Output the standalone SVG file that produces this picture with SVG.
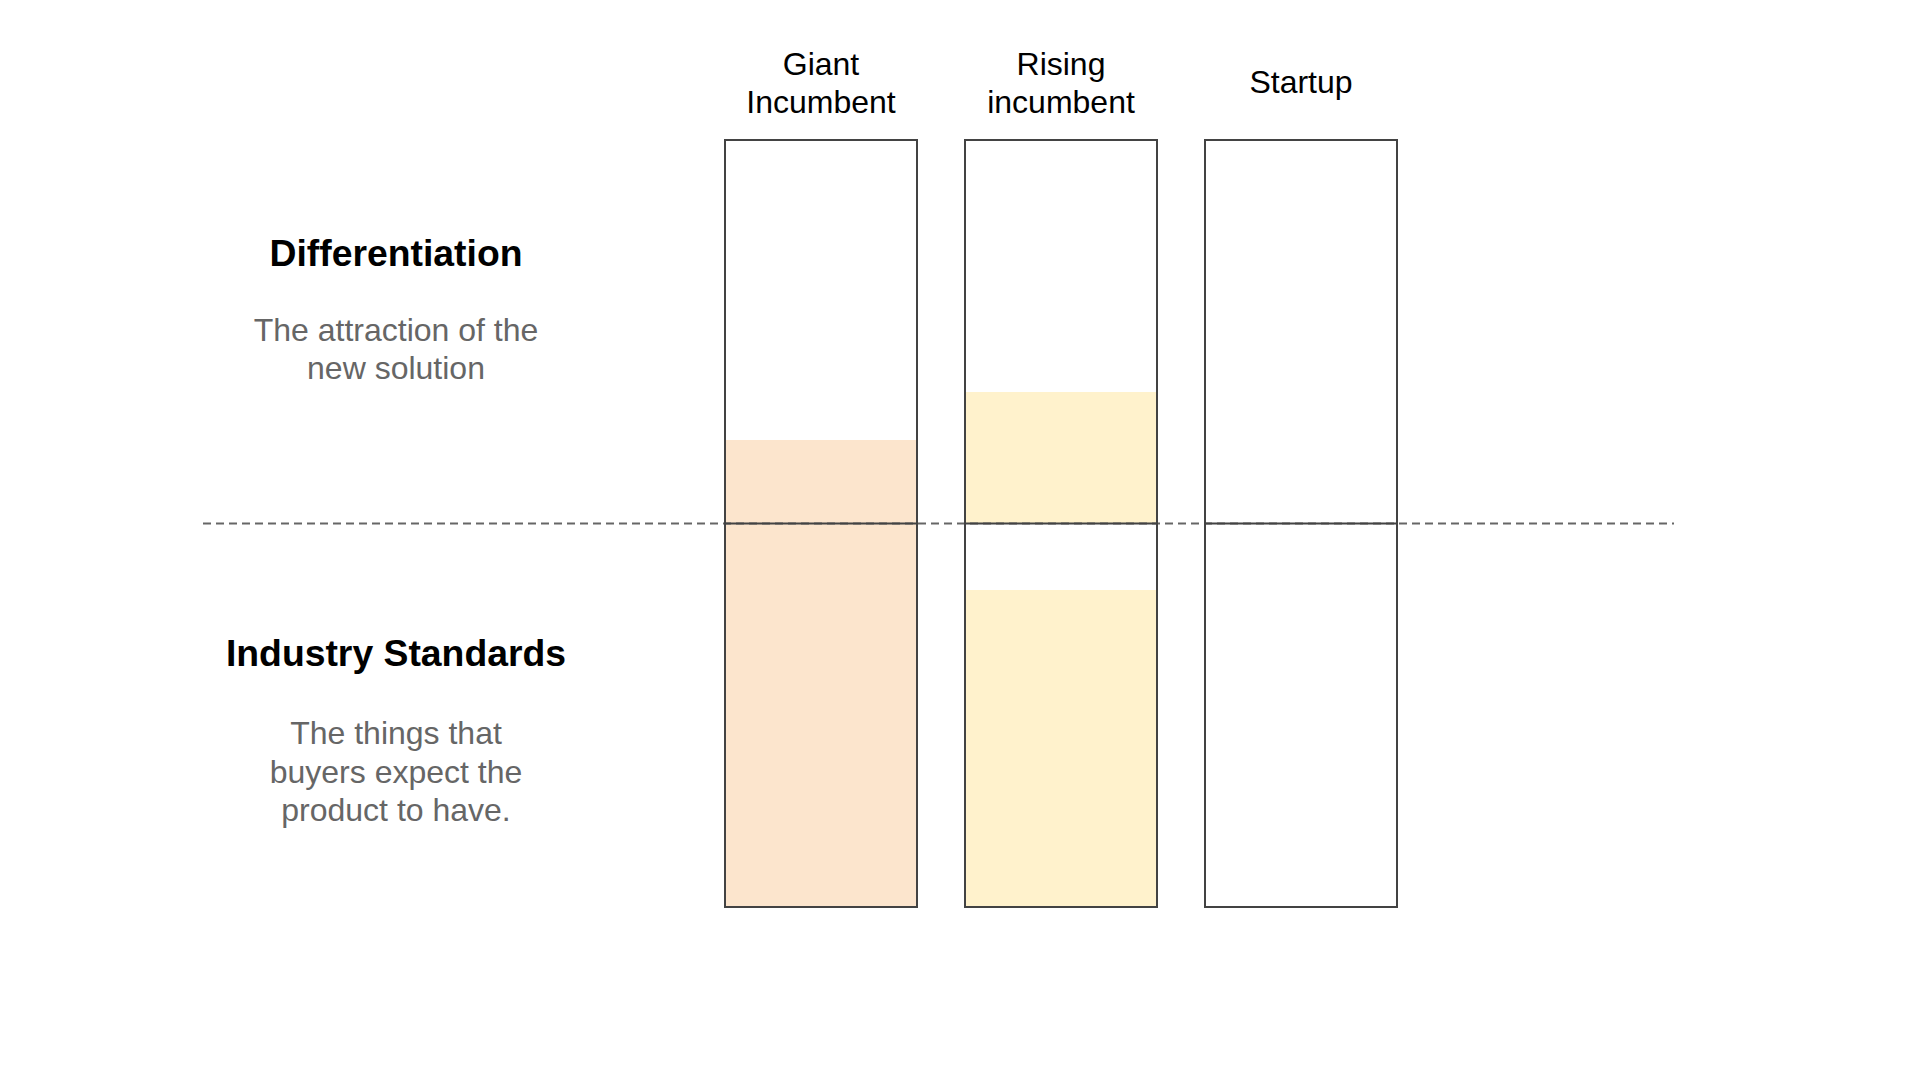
<svg xmlns="http://www.w3.org/2000/svg" width="1920" height="1080" viewBox="0 0 1920 1080">
<style>
.hdr{font-family:"Liberation Sans",Arial,sans-serif;font-size:32px;fill:#000;text-anchor:middle}
.ttl{font-family:"Liberation Sans",Arial,sans-serif;font-size:37.33px;font-weight:bold;fill:#000;text-anchor:middle}
.sub{font-family:"Liberation Sans",Arial,sans-serif;font-size:32px;fill:#666;text-anchor:middle}
.box{fill:none;stroke:#434343;stroke-width:2}
.div{stroke:#434343;stroke-width:2}
.dash{stroke:#666;stroke-width:2;stroke-dasharray:8 5}
</style>
<rect width="1920" height="1080" fill="#fff"/>
<g id="fills">
<rect x="725" y="440" width="192" height="467" fill="#fce5cd"/>
<rect x="965" y="392" width="192" height="131" fill="#fff2cc"/>
<rect x="965" y="590" width="192" height="317" fill="#fff2cc"/>
</g>
<g id="connectors">
<line class="dash" x1="203" y1="523.5" x2="1674" y2="523.5"/>
</g>
<g id="giant">
<rect class="box" x="725" y="140" width="192" height="767"/>
<line class="div" x1="725" y1="523.5" x2="917" y2="523.5"/>
<text class="hdr" x="821" y="75">Giant</text>
<text class="hdr" x="821" y="113">Incumbent</text>
</g>
<g id="rising">
<rect class="box" x="965" y="140" width="192" height="767"/>
<line class="div" x1="965" y1="523.5" x2="1157" y2="523.5"/>
<text class="hdr" x="1061" y="75">Rising</text>
<text class="hdr" x="1061" y="113">incumbent</text>
</g>
<g id="startup">
<rect class="box" x="1205" y="140" width="192" height="767"/>
<line class="div" x1="1205" y1="523.5" x2="1397" y2="523.5"/>
<text class="hdr" x="1301" y="93">Startup</text>
</g>
<g id="differentiation">
<text class="ttl" x="396" y="266">Differentiation</text>
<text class="sub" x="396" y="341">The attraction of the</text>
<text class="sub" x="396" y="379">new solution</text>
</g>
<g id="industry-standards">
<text class="ttl" x="396" y="666">Industry Standards</text>
<text class="sub" x="396" y="744">The things that</text>
<text class="sub" x="396" y="783">buyers expect the</text>
<text class="sub" x="396" y="821">product to have.</text>
</g>
</svg>
